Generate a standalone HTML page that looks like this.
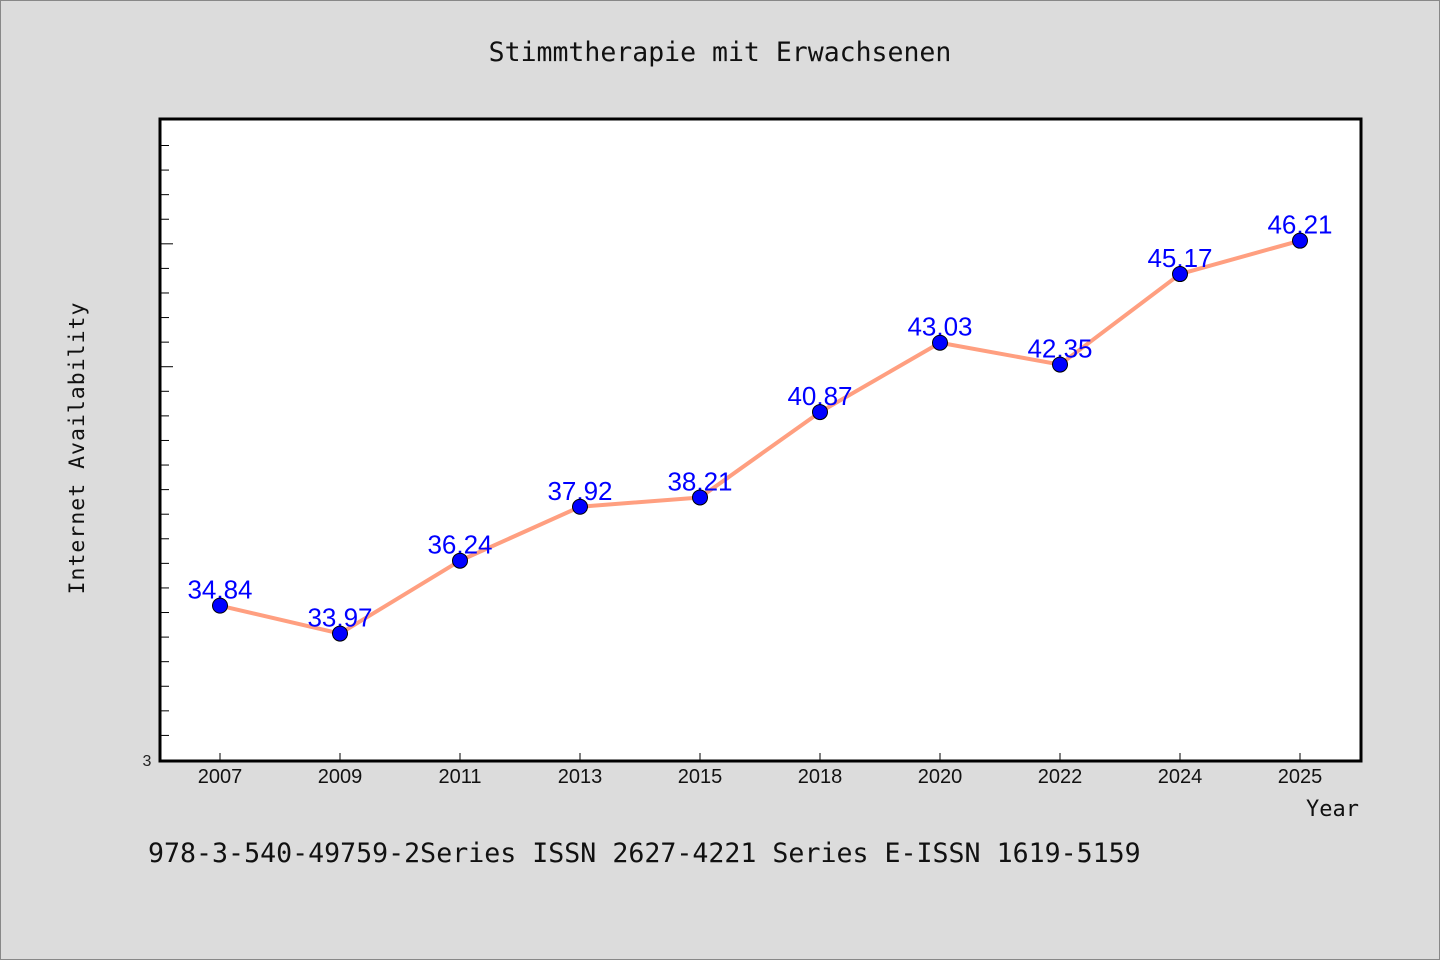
<!DOCTYPE html>
<html><head><meta charset="utf-8"><style>
html,body{margin:0;padding:0;background:#dcdcdc;}
svg{display:block;}
</style></head><body>
<svg width="1440" height="960" viewBox="0 0 1440 960" xmlns="http://www.w3.org/2000/svg">
<rect x="0.5" y="0.5" width="1439" height="959" fill="#dcdcdc" stroke="#888"/>
<text x="720" y="61" text-anchor="middle" font-family="'DejaVu Sans Mono','Liberation Mono',monospace" font-size="26.5" fill="#111">Stimmtherapie mit Erwachsenen</text>
<rect x="160" y="119" width="1201" height="642" fill="#fff" stroke="#000" stroke-width="3"/>
<g id="yticks"></g>
<g id="xaxis"></g>
<text x="147" y="766" text-anchor="middle" font-family="'Liberation Sans',sans-serif" font-size="16" fill="#222">3</text>
<text transform="translate(84,448) rotate(-90)" text-anchor="middle" font-family="'DejaVu Sans Mono','Liberation Mono',monospace" font-size="21.5" fill="#111" letter-spacing="1">Internet Availability</text>
<text x="1359" y="816" text-anchor="end" font-family="'DejaVu Sans Mono','Liberation Mono',monospace" font-size="22" fill="#111">Year</text>
<text x="148" y="862" font-family="'DejaVu Sans Mono','Liberation Mono',monospace" font-size="26.6" fill="#111">978-3-540-49759-2Series ISSN 2627-4221 Series E-ISSN 1619-5159</text>
<g id="series"></g>
</svg>
<script>
const categories = ["2007","2009","2011","2013","2015","2018","2020","2022","2024","2025"];
const values = [34.84,33.97,36.24,37.92,38.21,40.87,43.03,42.35,45.17,46.21];
const valueLabels = ["34.84","33.97","36.24","37.92","38.21","40.87","43.03","42.35","45.17","46.21"];
const NS="http://www.w3.org/2000/svg";
const yMin=30, yMax=50, plotTop=119, plotBottom=761;
function yScale(v){return plotBottom-(v-yMin)/(yMax-yMin)*(plotBottom-plotTop);}
function xScale(i){return 220+i*120;}
function mk(tag,attrs,parent){const e=document.createElementNS(NS,tag);for(const k in attrs)e.setAttribute(k,attrs[k]);parent.appendChild(e);return e;}
const yt=document.getElementById('yticks');
for(let k=1;k<=26;k++){
  const yy=760-k*24.58; if(yy<122)break;
  const isLong=(k===16||k===21);
  const t=mk('line',{x1:161,x2:isLong?173:169,y1:yy,y2:yy,stroke:'#000','stroke-width':1},yt);
  
  
}
const xa=document.getElementById('xaxis');
categories.forEach((c,i)=>{
  const t=mk('line',{x1:xScale(i),x2:xScale(i),y1:761,y2:753,stroke:'#000','stroke-width':1},xa);
  
  
  const l=mk('text',{x:xScale(i),y:783,'text-anchor':'middle','font-family':"'Liberation Sans',sans-serif",'font-size':20,fill:'#111'},xa);
  l.textContent=c;
  
  
});
const s=document.getElementById('series');
const pts=values.map((v,i)=>xScale(i)+','+yScale(v)).join(' ');
const line=mk('polyline',{points:pts,fill:'none',stroke:'#ff9f80','stroke-width':4,'stroke-linejoin':'round'},s);


values.forEach((v,i)=>{
  const lb=mk('text',{x:xScale(i),y:yScale(v)-7,'text-anchor':'middle','font-family':"'Liberation Sans',sans-serif",'font-size':26,fill:'#0000ff'},s);
  lb.textContent=valueLabels[i];
  
  
});
values.forEach((v,i)=>{
  const c=mk('circle',{cx:xScale(i),cy:yScale(v),r:7.5,fill:'#0000ff',stroke:'#000','stroke-width':1},s);
  
  
});
</script>
</body></html>
